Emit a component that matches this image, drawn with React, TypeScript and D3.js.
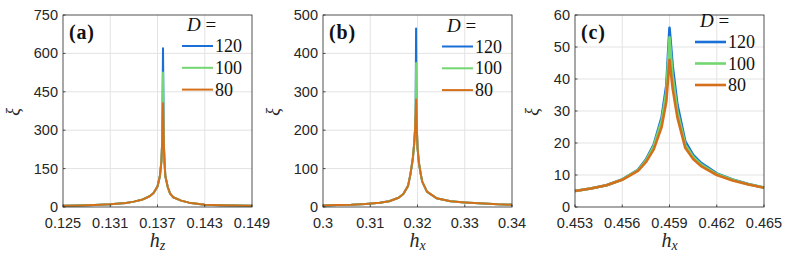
import React from 'react';
import * as d3 from 'd3';

// panel (a): xi vs h_z
const aH = [0.125, 0.127, 0.129, 0.131, 0.133, 0.134, 0.135, 0.136, 0.1365, 0.137, 0.1373, 0.1375, 0.1376, 0.1377, 0.1378, 0.1379, 0.138, 0.1383, 0.1386, 0.139, 0.14, 0.141, 0.143, 0.145, 0.147, 0.149];
const a80 = [5, 6, 8, 11, 16, 21, 28, 42, 55, 80, 120, 180, 260, 405, 250, 170, 120, 78, 52, 38, 25, 17, 9, 7, 6, 5];
const a100 = [5, 6, 8, 11, 16, 21, 28, 42, 55, 80, 120, 180, 260, 525, 250, 170, 120, 78, 52, 38, 25, 17, 9, 7, 6, 5];
const a120 = [5, 6, 8, 11, 16, 21, 28, 42, 55, 80, 120, 180, 260, 620, 250, 170, 120, 78, 52, 38, 25, 17, 9, 7, 6, 5];
const aXTicks = [0.125, 0.131, 0.137, 0.143, 0.149];
const aXLabels = ['0.125', '0.131', '0.137', '0.143', '0.149'];
const aYTicks = [0, 150, 300, 450, 600, 750];

// panel (b): xi vs h_x
const bH = [0.3, 0.303, 0.306, 0.309, 0.312, 0.314, 0.316, 0.317, 0.318, 0.3185, 0.319, 0.3193, 0.3195, 0.3196, 0.3197, 0.3198, 0.3199, 0.32, 0.3203, 0.3207, 0.321, 0.322, 0.324, 0.327, 0.33, 0.334, 0.337, 0.34];
const b80 = [4, 5, 6, 8, 11, 15, 24, 34, 55, 85, 125, 165, 205, 240, 280, 235, 190, 155, 115, 85, 66, 40, 23, 15, 12, 9, 7, 6];
const b100 = [4, 5, 6, 8, 11, 15, 24, 34, 55, 85, 125, 165, 205, 240, 375, 235, 190, 155, 115, 85, 66, 40, 23, 15, 12, 9, 7, 6];
const b120 = [4, 5, 6, 8, 11, 15, 24, 34, 55, 85, 125, 165, 205, 240, 465, 235, 190, 155, 115, 85, 66, 40, 23, 15, 12, 9, 7, 6];
const bXTicks = [0.3, 0.31, 0.32, 0.33, 0.34];
const bXLabels = ['0.3', '0.31', '0.32', '0.33', '0.34'];
const bYTicks = [0, 100, 200, 300, 400, 500];

// panel (c): xi vs h_x, zoomed
const cH = [0.453, 0.454, 0.455, 0.456, 0.457, 0.4575, 0.458, 0.4585, 0.4588, 0.459, 0.4592, 0.4595, 0.46, 0.4605, 0.461, 0.462, 0.463, 0.464, 0.465];
const c80 = [5.0, 5.8, 6.8, 8.5, 11.3, 14, 18, 25, 33, 46, 37, 28, 18.5, 15, 12.8, 10, 8.3, 7, 6];
const c100 = [5.0, 5.8, 6.8, 8.6, 11.5, 14.5, 19, 27, 36, 53, 41, 30, 19.5, 15.7, 13.3, 10.3, 8.5, 7.1, 6.1];
const c120 = [5.0, 5.8, 6.8, 8.6, 11.6, 14.8, 19.5, 28, 38, 56, 44, 32, 20.5, 16.3, 13.8, 10.5, 8.6, 7.2, 6.1];
const cXTicks = [0.453, 0.456, 0.459, 0.462, 0.465];
const cXLabels = ['0.453', '0.456', '0.459', '0.462', '0.465'];
const cYTicks = [0, 10, 20, 30, 40, 50, 60];

const sizes = ['120', '100', '80'];
const colors = ['#1a6fd6', '#72d672', '#d5701a'];

const panels = [
  { tag: '(a)', sub: 'z', left: 63, h: aH, ys: [a120, a100, a80], xt: aXTicks, xl: aXLabels, yt: aYTicks, lw: 2, leg: { x: 182, y: 46, dy: 21.8 }, yl: 19 },
  { tag: '(b)', sub: 'x', left: 323, h: bH, ys: [b120, b100, b80], xt: bXTicks, xl: bXLabels, yt: bYTicks, lw: 2, leg: { x: 442, y: 46.5, dy: 21.8 }, yl: 279 },
  { tag: '(c)', sub: 'x', left: 575, h: cH, ys: [c120, c100, c80], xt: cXTicks, xl: cXLabels, yt: cYTicks, lw: 2.6, leg: { x: 695, y: 42, dy: 21.5 }, yl: 538 },
];

const sans = { fontFamily: '"Liberation Sans"' };
const serif = { fontFamily: '"Liberation Serif"' };
const ink = '#262626';
const top = 15, bottom = 207, w = 189;

const Panel = ({ p }: { p: (typeof panels)[number] }) => {
  const x = d3.scaleLinear().domain([p.xt[0], p.xt[p.xt.length - 1]]).range([p.left, p.left + w]);
  const y = d3.scaleLinear().domain([0, p.yt[p.yt.length - 1]]).range([bottom, top]);
  const line = d3.line<number>().x((_, i) => x(p.h[i])).y((d) => y(d));

  return (
    <g>
      <rect x={p.left} y={top} width={w} height={bottom - top} fill="#fff" />
      {p.xt.slice(1, -1).map((t) => (
        <line key={'gx' + t} x1={x(t)} x2={x(t)} y1={top} y2={bottom} stroke="#e3e3e3" />
      ))}
      {p.yt.slice(1, -1).map((t) => (
        <line key={'gy' + t} x1={p.left} x2={p.left + w} y1={y(t)} y2={y(t)} stroke="#e3e3e3" />
      ))}
      {p.ys.map((s, k) => (
        <path key={k} d={line(s) || ''} fill="none" stroke={colors[k]} strokeWidth={p.lw} strokeLinejoin="round" />
      ))}
      <rect x={p.left} y={top} width={w} height={bottom - top} fill="none" stroke={ink} strokeWidth={0.8} />
      {p.xt.map((t, i) => (
        <g key={'tx' + t}>
          <line x1={x(t)} x2={x(t)} y1={bottom} y2={bottom - 2.5} stroke={ink} strokeWidth={0.8} />
          <text x={x(t)} y={228} textAnchor="middle" fontSize={14.5} fill={ink} style={sans}>{p.xl[i]}</text>
        </g>
      ))}
      {p.yt.map((t) => (
        <g key={'ty' + t}>
          <line x1={p.left} x2={p.left + 2.5} y1={y(t)} y2={y(t)} stroke={ink} strokeWidth={0.8} />
          <text x={p.left - 5} y={y(t) + 5} textAnchor="end" fontSize={14.5} fill={ink} style={sans}>{t}</text>
        </g>
      ))}
      <text x={p.left + w / 2} y={247} textAnchor="middle" fill={ink} fontStyle="italic" style={serif}>
        <tspan fontSize={20}>h</tspan>
        <tspan fontSize={14} dy={3}>{p.sub}</tspan>
      </text>
      <text transform={`translate(${p.yl},112) rotate(-90)`} textAnchor="middle" fontSize={18}
        fontStyle="italic" fill={ink} style={serif}>ξ</text>
      <text x={p.left + 6} y={39} fontSize={20} fontWeight="bold" letterSpacing={0.8} fill="#111" style={serif}>{p.tag}</text>
      <text x={p.leg.x + 5} y={p.leg.y - 15} fontSize={19} fill="#111" style={serif}>
        <tspan fontStyle="italic">D</tspan>
        <tspan> =</tspan>
      </text>
      {sizes.map((s, k) => {
        const ly = p.leg.y + k * p.leg.dy;
        return (
          <g key={s}>
            <line x1={p.leg.x} x2={p.leg.x + 31} y1={ly} y2={ly} stroke={colors[k]} strokeWidth={p.lw} />
            <text x={p.leg.x + 33} y={ly + 6} fontSize={18} fill="#111" style={serif}>{s}</text>
          </g>
        );
      })}
    </g>
  );
};

const App = () => (
  <svg width={789} height={256} style={{ position: 'absolute', left: 0, top: 0, background: '#fff' }}>
    {panels.map((p) => (
      <Panel key={p.tag} p={p} />
    ))}
  </svg>
);

export default App;
